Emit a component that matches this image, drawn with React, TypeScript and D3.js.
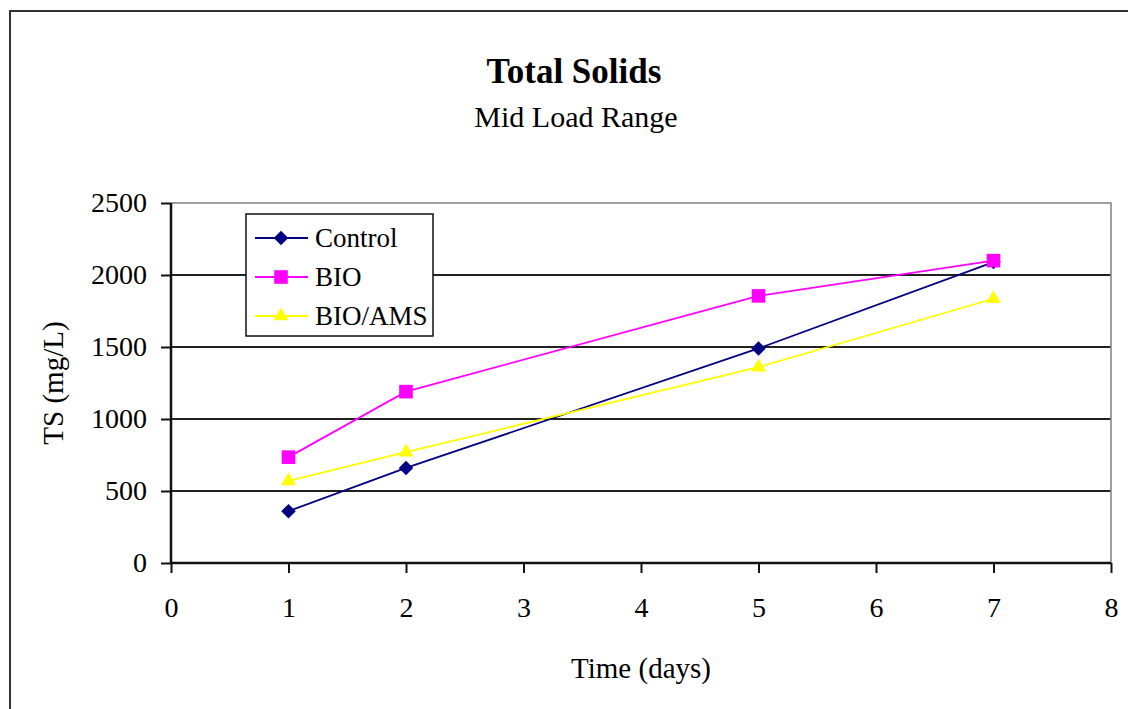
import React, { useEffect, useRef } from 'react';
import * as d3 from 'd3';

const days = [1, 2, 5, 7];
const controlTS = [360, 660, 1490, 2090];
const bioTS = [735, 1190, 1855, 2100];
const bioAmsTS = [570, 770, 1360, 1835];

const xTicks = [0, 1, 2, 3, 4, 5, 6, 7, 8];
const yTicks = [0, 500, 1000, 1500, 2000, 2500];

const seriesNames = ['Control', 'BIO', 'BIO/AMS'];
const seriesColors = ['#000080', '#FF00FF', '#FFFF00'];
const seriesShapes = [d3.symbolSquare, d3.symbolSquare, d3.symbolTriangle];
const seriesRotate = [45, 0, 0];
const seriesSizes = [105, 185, 95];

const W = 1128;
const H = 709;
const FONT = '"Liberation Serif", "Times New Roman", serif';

export default function App() {
  const svgRef = useRef<SVGSVGElement>(null);

  useEffect(() => {
    const svg = d3.select(svgRef.current);
    svg.selectAll('*').remove();

    const margin = { top: 203, left: 171, right: W - 1111, bottom: H - 563 };
    const x = d3.scaleLinear().domain([0, 8]).range([margin.left, W - margin.right]);
    const y = d3.scaleLinear().domain([0, 2500]).range([H - margin.bottom, margin.top]);

    // outer chart frame
    svg.append('rect')
      .attr('x', 10).attr('y', 11)
      .attr('width', W + 20).attr('height', H + 20)
      .attr('fill', 'white')
      .attr('stroke', '#333')
      .attr('stroke-width', 2);

    // titles
    svg.append('text')
      .attr('x', 574).attr('y', 83)
      .attr('text-anchor', 'middle')
      .attr('font-family', FONT)
      .attr('font-weight', 'bold')
      .attr('font-size', 35)
      .text('Total Solids');
    svg.append('text')
      .attr('x', 576).attr('y', 127)
      .attr('text-anchor', 'middle')
      .attr('font-family', FONT)
      .attr('font-size', 30)
      .text('Mid Load Range');

    // gridlines
    svg.append('g')
      .selectAll('line')
      .data(yTicks.filter(t => t > 0 && t < 2500))
      .join('line')
      .attr('x1', x(0)).attr('x2', x(8))
      .attr('y1', d => y(d)).attr('y2', d => y(d))
      .attr('stroke', '#222')
      .attr('stroke-width', 2);

    // plot border top/right
    svg.append('path')
      .attr('d', `M${x(0)},${y(2500)}H${x(8)}V${y(0)}`)
      .attr('fill', 'none')
      .attr('stroke', '#808080')
      .attr('stroke-width', 1.5);

    // axes
    const xAxis = svg.append('g')
      .attr('transform', `translate(0,${y(0)})`)
      .call(d3.axisBottom(x).tickValues(xTicks).tickSize(10).tickPadding(24).tickFormat(d3.format('d')));
    const yAxis = svg.append('g')
      .attr('transform', `translate(${x(0)},0)`)
      .call(d3.axisLeft(y).tickValues(yTicks).tickSize(10).tickPadding(14).tickFormat(d3.format('d')));
    [xAxis, yAxis].forEach(a => {
      a.select('.domain').attr('stroke', '#111').attr('stroke-width', 2.5);
      a.selectAll('.tick line').attr('stroke', '#111').attr('stroke-width', 2);
      a.selectAll('text')
        .attr('font-family', FONT)
        .attr('font-size', 28)
        .attr('fill', '#000');
    });
    xAxis.selectAll('.domain').attr('d', `M${x(0)},0H${x(8)}`);
    yAxis.selectAll('.domain').attr('d', `M0,${y(0)}V${y(2500)}`);

    // axis titles
    svg.append('text')
      .attr('x', 641).attr('y', 678)
      .attr('text-anchor', 'middle')
      .attr('font-family', FONT)
      .attr('font-size', 29)
      .text('Time (days)');
    svg.append('text')
      .attr('transform', `translate(63,${(y(0) + y(2500)) / 2}) rotate(-90)`)
      .attr('text-anchor', 'middle')
      .attr('font-family', FONT)
      .attr('font-size', 29)
      .text('TS (mg/L)');

    // series
    const allSeries = [controlTS, bioTS, bioAmsTS];
    const line = d3.line<number>().x((_, i) => x(days[i])).y(d => y(d));

    allSeries.forEach((vals, s) => {
      const g = svg.append('g');
      g.append('path')
        .datum(vals)
        .attr('d', line)
        .attr('fill', 'none')
        .attr('stroke', seriesColors[s])
        .attr('stroke-width', 1.8);
      g.selectAll('path.pt')
        .data(vals)
        .join('path')
        .attr('class', 'pt')
        .attr('transform', (d, i) => `translate(${x(days[i])},${y(d)}) rotate(${seriesRotate[s]})`)
        .attr('d', d3.symbol().type(seriesShapes[s]).size(seriesSizes[s])())
        .attr('fill', seriesColors[s]);
    });

    // legend
    const lg = svg.append('g');
    lg.append('rect')
      .attr('x', 246).attr('y', 214)
      .attr('width', 187).attr('height', 122)
      .attr('fill', 'white')
      .attr('stroke', '#111')
      .attr('stroke-width', 1.5);
    const rowY = [238, 277, 316];
    seriesNames.forEach((name, s) => {
      lg.append('line')
        .attr('x1', 255).attr('x2', 308)
        .attr('y1', rowY[s]).attr('y2', rowY[s])
        .attr('stroke', seriesColors[s])
        .attr('stroke-width', 1.8);
      lg.append('path')
        .attr('transform', `translate(281,${rowY[s]}) rotate(${seriesRotate[s]})`)
        .attr('d', d3.symbol().type(seriesShapes[s]).size(seriesSizes[s])())
        .attr('fill', seriesColors[s]);
      lg.append('text')
        .attr('x', 315).attr('y', rowY[s] + 9)
        .attr('font-family', FONT)
        .attr('font-size', 27)
        .text(name);
    });
  }, []);

  return (
    <svg ref={svgRef} width={W} height={H} style={{ display: 'block', position: 'absolute', left: 0, top: 0 }} />
  );
}
